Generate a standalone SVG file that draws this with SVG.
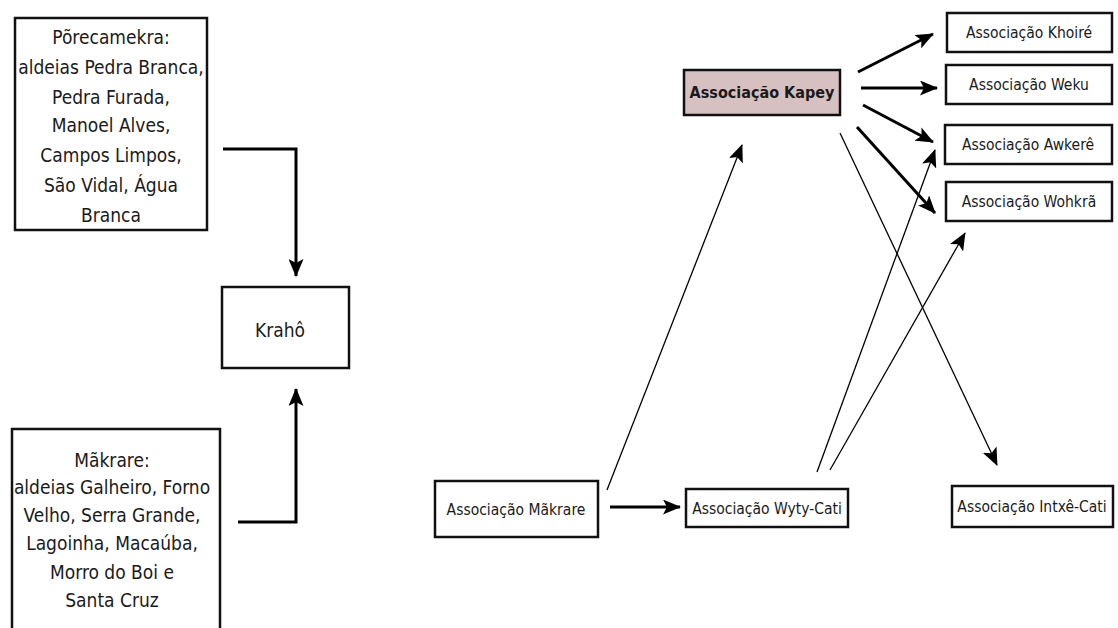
<svg xmlns="http://www.w3.org/2000/svg" width="1118" height="628" viewBox="0 0 1118 628">
<style>
.box{fill:#fff;stroke:#111;stroke-width:2.5}
.kap{fill:#d7c0c0;stroke:#111;stroke-width:2.5}
.t{font-family:"DejaVu Sans Condensed","DejaVu Sans",sans-serif;fill:#1a1a1a;text-anchor:middle}
.big{font-size:19px}
.sm{font-size:15.5px}
.thick{fill:none;stroke:#000;stroke-width:3}
.thin{fill:none;stroke:#000;stroke-width:1.3}
</style>
<defs>
<marker id="ah" viewBox="0 0 18 15" refX="17" refY="7.5" markerWidth="18" markerHeight="15" markerUnits="userSpaceOnUse" orient="auto">
<path d="M0,0 L18,7.5 L0,15 L4,7.5 Z" fill="#000"/>
</marker>
</defs>
<rect width="1118" height="628" fill="#fff"/>
<g id="connectors">
<polyline class="thick" points="223,149 296,149 296,276" marker-end="url(#ah)"/>
<polyline class="thick" points="238,522 296,522 296,389" marker-end="url(#ah)"/>
<line class="thick" x1="858" y1="72" x2="933" y2="34" marker-end="url(#ah)"/>
<line class="thick" x1="861" y1="88" x2="937" y2="88" marker-end="url(#ah)"/>
<line class="thick" x1="863" y1="105" x2="933" y2="142" marker-end="url(#ah)"/>
<line class="thick" x1="857" y1="127" x2="935" y2="213" marker-end="url(#ah)"/>
<line class="thin" x1="840" y1="133" x2="997" y2="465" marker-end="url(#ah)"/>
<line class="thin" x1="607" y1="490" x2="742" y2="145" marker-end="url(#ah)"/>
<line class="thin" x1="817" y1="472" x2="935" y2="150" marker-end="url(#ah)"/>
<line class="thin" x1="830" y1="470" x2="965" y2="233" marker-end="url(#ah)"/>
<line class="thick" x1="610" y1="507" x2="680" y2="507" marker-end="url(#ah)"/>
</g>
<g id="porecamekra">
<rect class="box" x="15" y="18" width="192" height="212"/>
<text class="t big"><tspan x="111" y="44">Põrecamekra:</tspan><tspan x="111" y="74">aldeias Pedra Branca,</tspan><tspan x="111" y="104">Pedra Furada,</tspan><tspan x="111" y="132">Manoel Alves,</tspan><tspan x="111" y="162">Campos Limpos,</tspan><tspan x="111" y="192">São Vidal, Água</tspan><tspan x="111" y="222">Branca</tspan></text>
</g>
<g id="kraho">
<rect class="box" x="222" y="287" width="127" height="81"/>
<text class="t big" x="280" y="337">Krahô</text>
</g>
<g id="makrare">
<rect class="box" x="12" y="429" width="208" height="210"/>
<text class="t big"><tspan x="112" y="467">Mãkrare:</tspan><tspan x="112" y="494">aldeias Galheiro, Forno</tspan><tspan x="112" y="522">Velho, Serra Grande,</tspan><tspan x="112" y="550">Lagoinha, Macaúba,</tspan><tspan x="112" y="579">Morro do Boi e</tspan><tspan x="112" y="607">Santa Cruz</tspan></text>
</g>
<g id="kapey">
<rect class="kap" x="684" y="70" width="156" height="45"/>
<text class="t" x="762" y="98" style="font-size:16px;font-weight:bold">Associação Kapey</text>
</g>
<g id="khoire">
<rect class="box" x="947" y="13" width="165" height="39"/>
<text class="t sm" x="1029" y="38">Associação Khoiré</text>
</g>
<g id="weku">
<rect class="box" x="946" y="65" width="166" height="39"/>
<text class="t sm" x="1029" y="90">Associação  Weku</text>
</g>
<g id="awkere">
<rect class="box" x="945" y="125" width="167" height="39"/>
<text class="t sm" x="1028" y="150">Associação Awkerê</text>
</g>
<g id="wohkra">
<rect class="box" x="946" y="182" width="166" height="39"/>
<text class="t sm" x="1029" y="207">Associação Wohkrã</text>
</g>
<g id="assoc-makrare">
<rect class="box" x="435" y="481" width="163" height="56"/>
<text class="t sm" x="516" y="515">Associação Mãkrare</text>
</g>
<g id="wyty-cati">
<rect class="box" x="686" y="489" width="162" height="38"/>
<text class="t sm" x="767" y="514">Associação Wyty-Cati</text>
</g>
<g id="intxe-cati">
<rect class="box" x="952" y="486" width="161" height="41"/>
<text class="t sm" x="1032" y="512">Associação Intxê-Cati</text>
</g>
</svg>
